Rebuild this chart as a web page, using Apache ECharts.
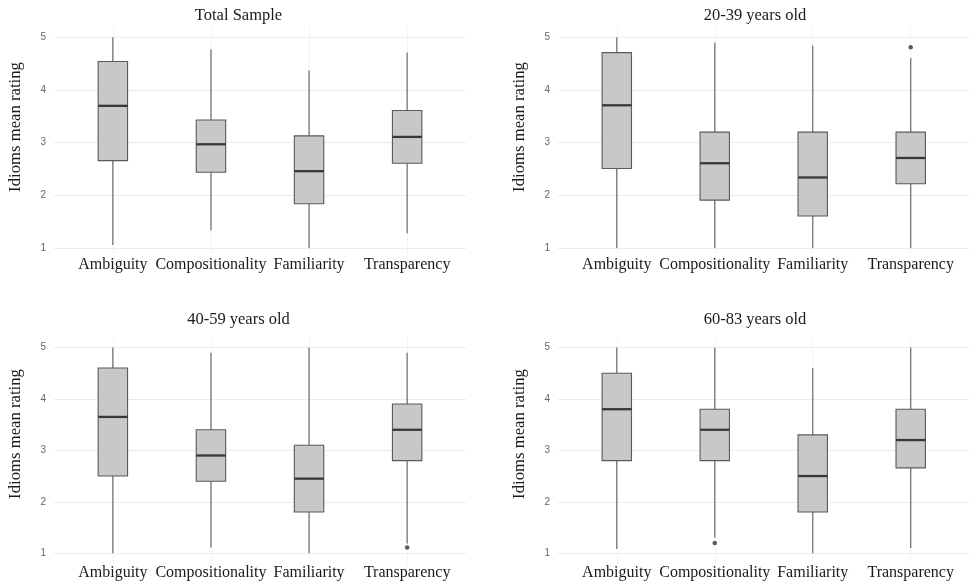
<!DOCTYPE html>
<html><head><meta charset="utf-8">
<script src="https://cdn.jsdelivr.net/npm/echarts@6/dist/echarts.min.js"></script>
<style>html,body{margin:0;padding:0;background:#fff}#c{width:972px;height:581px}</style>
</head><body><div id="c"></div>
<script>
const categories = ['Ambiguity', 'Compositionality', 'Familiarity', 'Transparency'];
const panelTitles = ['Total Sample', '20-39 years old', '40-59 years old', '60-83 years old'];
const yTicks = [1, 2, 3, 4, 5];
const xTicks = [0, 1, 2, 3];
// each row: [min, Q1, median, Q3, max] for one category
const totalSample = [[1.06, 2.66, 3.70, 4.54, 5.00], [1.34, 2.44, 2.97, 3.43, 4.77], [1.00, 1.84, 2.46, 3.13, 4.37], [1.28, 2.61, 3.11, 3.61, 4.71]];
const age20to39 = [[1.00, 2.51, 3.71, 4.71, 5.00], [1.00, 1.91, 2.61, 3.20, 4.90], [1.00, 1.61, 2.34, 3.20, 4.84], [1.00, 2.22, 2.71, 3.20, 4.61]];
const age40to59 = [[1.00, 2.50, 3.65, 4.60, 5.00], [1.11, 2.40, 2.90, 3.40, 4.90], [1.00, 1.80, 2.45, 3.10, 5.00], [1.19, 2.80, 3.40, 3.90, 4.90]];
const age60to83 = [[1.08, 2.80, 3.80, 4.50, 5.00], [1.30, 2.80, 3.40, 3.80, 5.00], [1.00, 1.80, 2.50, 3.30, 4.60], [1.10, 2.66, 3.20, 3.80, 5.00]];
// outliers: [category index, value]
const outliersTotal = [];
const outliers20to39 = [[3, 4.81]];
const outliers40to59 = [[3, 1.11]];
const outliers60to83 = [[1, 1.20]];

const boxData = [totalSample, age20to39, age40to59, age60to83];
const outlierData = [outliersTotal, outliers20to39, outliers40to59, outliers60to83];

const gridPos = [
  {left: 54, top: 26.8, width: 412, height: 231.8},
  {left: 558, top: 26.8, width: 411.5, height: 231.8},
  {left: 54, top: 337.2, width: 412, height: 231},
  {left: 558, top: 337.2, width: 411.5, height: 231}
];
const labelMargin = [-1.5, -1.5, 1.5, 1.5];
const titlePos = [[238.5, 15.5], [755, 15.5], [238.5, 320], [755, 320]];
const namePos = [[16, 127], [520, 127], [16, 434], [520, 434]];

const serif = '"Liberation Serif", "Times New Roman", serif';

function renderBox(params, api) {
  const x = api.value(0);
  const pMin = api.coord([x, api.value(1)]);
  const pQ1 = api.coord([x, api.value(2)]);
  const pMed = api.coord([x, api.value(3)]);
  const pQ3 = api.coord([x, api.value(4)]);
  const pMax = api.coord([x, api.value(5)]);
  const w = api.size([1, 0])[0] * 0.3;
  const whisker = {stroke: '#747474', lineWidth: 1.3};
  return {
    type: 'group',
    children: [
      {type: 'line', shape: {x1: pMin[0], y1: pMin[1], x2: pQ1[0], y2: pQ1[1]}, style: whisker},
      {type: 'line', shape: {x1: pQ3[0], y1: pQ3[1], x2: pMax[0], y2: pMax[1]}, style: whisker},
      {type: 'rect', shape: {x: pQ3[0] - w / 2, y: pQ3[1], width: w, height: pQ1[1] - pQ3[1]},
        style: {fill: '#c8c8c8', stroke: '#5a5a5a', lineWidth: 1.1}},
      {type: 'line', shape: {x1: pMed[0] - w / 2, y1: pMed[1], x2: pMed[0] + w / 2, y2: pMed[1]},
        style: {stroke: '#383838', lineWidth: 2.3}}
    ]
  };
}

const grids = [], xAxes = [], yAxes = [], series = [], graphics = [];
for (let i = 0; i < 4; i++) {
  grids.push(Object.assign({containLabel: false}, gridPos[i]));
  xAxes.push({
    type: 'value', gridIndex: i, min: -0.6, max: 3.6,
    axisLine: {show: false},
    axisTick: {show: false, customValues: xTicks},
    axisLabel: {customValues: xTicks, formatter: v => categories[Math.round(v)],
      fontFamily: serif, fontSize: 16, color: '#1a1a1a', margin: labelMargin[i]},
    splitLine: {show: true, lineStyle: {color: '#f3f3f3', width: 1}}
  });
  yAxes.push({
    type: 'value', gridIndex: i, min: 0.8, max: 5.2,
    axisLine: {show: false},
    axisTick: {show: false, customValues: yTicks},
    axisLabel: {customValues: yTicks, fontFamily: '"Liberation Sans", Arial, sans-serif',
      fontSize: 10, color: '#666', margin: 8},
    splitLine: {show: true, lineStyle: {color: '#ebebeb', width: 1}}
  });
  series.push({
    type: 'custom', xAxisIndex: i, yAxisIndex: i,
    renderItem: renderBox,
    encode: {x: 0, y: [1, 2, 3, 4, 5]},
    data: boxData[i].map((d, k) => [xTicks[k]].concat(d)),
    z: 2
  });
  series.push({
    type: 'scatter', xAxisIndex: i, yAxisIndex: i,
    symbol: 'circle', symbolSize: 4.5,
    itemStyle: {color: '#333'},
    data: outlierData[i],
    z: 3
  });
  graphics.push({
    type: 'text', x: titlePos[i][0], y: titlePos[i][1],
    style: {text: panelTitles[i], font: '16.5px ' + serif, fill: '#1a1a1a', align: 'center', verticalAlign: 'middle'}
  });
  graphics.push({
    type: 'text', x: namePos[i][0], y: namePos[i][1], rotation: Math.PI / 2,
    style: {text: 'Idioms mean rating', font: '16.7px ' + serif, fill: '#1a1a1a', align: 'center', verticalAlign: 'middle'}
  });
}

const chart = echarts.init(document.getElementById('c'), null, {renderer: 'canvas'});
chart.setOption({
  backgroundColor: '#fff',
  animation: false,
  grid: grids,
  xAxis: xAxes,
  yAxis: yAxes,
  series: series,
  graphic: graphics
});
</script></body></html>
